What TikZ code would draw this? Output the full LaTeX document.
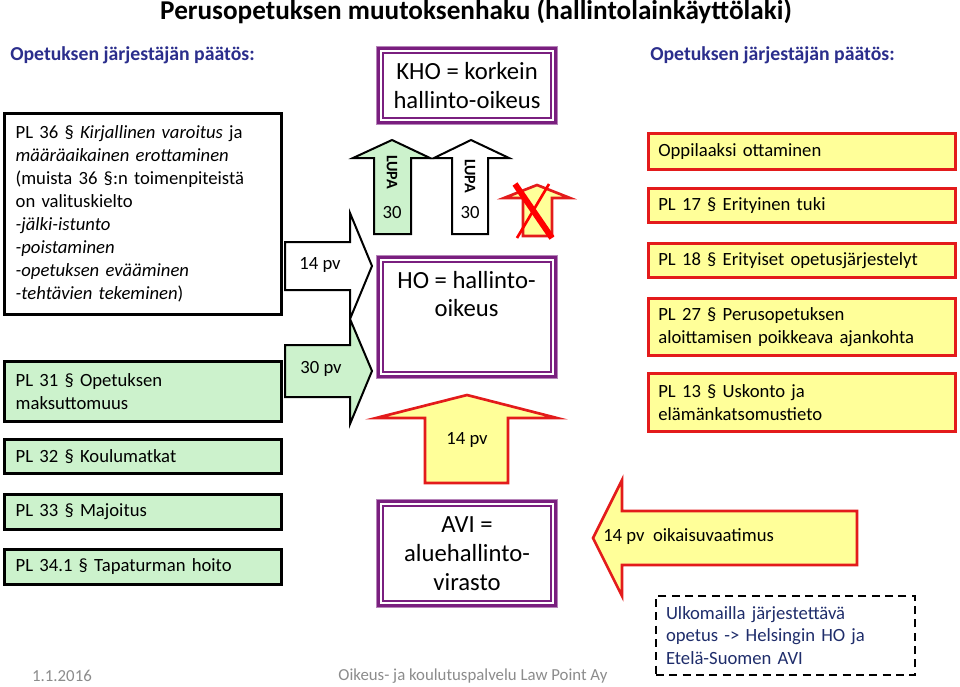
\documentclass[tikz,border=0pt]{standalone}
\usepackage{fontspec}
\setmainfont{Carlito}
\usepackage{xcolor}
\usepackage{tikz}
\usetikzlibrary{positioning}
\definecolor{plgreen}{HTML}{CCF2CC}
\definecolor{plyellow}{HTML}{FFFF99}
\definecolor{plred}{HTML}{E31B1B}
\definecolor{plpurple}{HTML}{7A1F7F}
\definecolor{plblue}{HTML}{2B2E8C}
\definecolor{plnavy}{HTML}{1F2D6B}
\definecolor{plgray}{HTML}{8C8C8C}
\newcommand{\bodyfont}{\fontsize{14}{17.25}\selectfont}
\newcommand{\courtfont}{\fontsize{18.5}{21.5}\selectfont}
\newcommand{\lupafont}{\fontsize{12}{14}\selectfont\bfseries}

\begin{document}
\begin{tikzpicture}[x=0.75pt,y=-0.75pt,
  leftbox/.style={draw=black,line width=2pt,anchor=north west,align=left,font=\bodyfont,inner xsep=8.5pt,text width=190.75pt},
  rightbox/.style={draw=plred,line width=2pt,fill=plyellow,anchor=north west,align=left,font=\bodyfont,inner xsep=7.5pt,text width=215.25pt},
  court/.style={draw=plpurple!55,line width=0.8pt,fill=white,anchor=north west,minimum width=135.75pt,align=center,font=\courtfont},
  blackarrow/.style={draw=black,line width=1.5pt},
  redarrow/.style={draw=plred,line width=2pt,fill=plyellow},
  head/.style={font=\fontsize{14.8}{17}\selectfont\bfseries,text=plblue,anchor=west,inner sep=0pt},
  foot/.style={font=\fontsize{12.6}{14}\selectfont,text=plgray,inner sep=0pt}]
  \fill[white] (0,0) rectangle (960,686);
  \useasboundingbox (0,0) rectangle (960,686);
  \node[font=\fontsize{20.4}{24}\selectfont\bfseries] (title) at (476,12) {Perusopetuksen muutoksenhaku (hallintolainkäyttölaki)};
  \node[head] (headleft) at (10,55) {Opetuksen järjestäjän päätös:};
  \node[head] (headright) at (650,55) {Opetuksen järjestäjän päätös:};
  % decisions, left
  \node[leftbox,fill=white,minimum height=150.75pt] (pl36) at (3,112)
        {PL 36 § \textit{Kirjallinen varoitus} ja\\\textit{määräaikainen erottaminen}\\(muista 36 §:n toimenpiteistä\\on valituskielto\\\textit{-jälki-istunto}\\\textit{-poistaminen}\\\textit{-opetuksen evääminen}\\\textit{-tehtävien tekeminen})};
  \node[leftbox,fill=plgreen,minimum height=45pt] (pl31) at (3,360) {PL 31 § Opetuksen\\maksuttomuus};
  \node[leftbox,fill=plgreen,minimum height=25.5pt] (pl32) at (3,438) {PL 32 § Koulumatkat};
  \node[leftbox,fill=plgreen,minimum height=26.25pt] (pl33) at (3,493) {PL 33 § Majoitus};
  \node[leftbox,fill=plgreen,minimum height=26.25pt] (pl34) at (3,548) {PL 34.1 § Tapaturman hoito};
  % decisions, right
  \node[rightbox,minimum height=27pt] (opp) at (647,132) {Oppilaaksi ottaminen};
  \node[rightbox,minimum height=25.5pt] (pl17) at (647,187) {PL 17 § Erityinen tuki};
  \node[rightbox,minimum height=25.5pt] (pl18) at (647,242) {PL 18 § Erityiset opetusjärjestelyt};
  \node[rightbox,minimum height=42.75pt] (pl27) at (647,297) {PL 27 § Perusopetuksen\\aloittamisen poikkeava ajankohta};
  \node[rightbox,minimum height=43.5pt] (pl13) at (647,372) {PL 13 § Uskonto ja\\elämänkatsomustieto};
  % courts
  \node[court,minimum height=58.5pt] (kho) at (376,46) {KHO = korkein\\hallinto-oikeus};
  \node[court,minimum height=92.25pt] (ho) at (376,255) {};
  \node[court,minimum height=81pt] (avi) at (376,499) {AVI =\\aluehallinto-\\virasto};
  \foreach \c in {kho,ho,avi}{
    \draw[plpurple,line width=2.25pt] ([shift={(2.5,2.5)}]\c.north west) rectangle ([shift={(-2.5,-2.5)}]\c.south east);
    \draw[plpurple,line width=1.1pt] ([shift={(7,7)}]\c.north west) rectangle ([shift={(-7,-7)}]\c.south east);
  }
  \node[font=\courtfont,align=center] (hotext) at (466.5,294) {HO = hallinto-\\oikeus};
  % appeal arrows
  \draw[blackarrow,fill=white] (285,242) -- (350,242) -- (350,213) -- (372,266) -- (350,319) -- (350,290) -- (285,290) -- cycle;
  \node[font=\bodyfont] (pv14) at (320,265) {14 pv};
  \draw[blackarrow,fill=plgreen] (285,345) -- (350,345) -- (350,319) -- (372,371) -- (350,424) -- (350,397) -- (285,397) -- cycle;
  \node[font=\bodyfont] (pv30) at (321,369) {30 pv};
  \draw[blackarrow,fill=plgreen] (374,234) -- (374,158) -- (353,158) -- (392,140) -- (430,158) -- (411,158) -- (411,234) -- cycle;
  \node[font=\lupafont,rotate=-90] (lupaA) at (392,172) {LUPA};
  \node[font=\bodyfont] (daysA) at (392,213) {30};
  \draw[blackarrow,fill=white] (452,234) -- (452,158) -- (434,158) -- (471,140) -- (509,158) -- (488,158) -- (488,234) -- cycle;
  \node[font=\lupafont,rotate=-90] (lupaB) at (470,176) {LUPA};
  \node[font=\bodyfont] (daysB) at (470,213) {30};
  % no appeal from AVI
  \draw[redarrow] (523,236) -- (523,198) -- (504,198) -- (537,185) -- (570,198) -- (552,198) -- (552,236) -- cycle;
  \draw[red,line width=4.5pt] (515,184) -- (552,238);
  \draw[red,line width=2pt] (549,184) -- (517,238);
  \draw[redarrow] (425,483) -- (425,418) -- (376,418) -- (467,395) -- (557,418) -- (508,418) -- (508,483) -- cycle;
  \node[font=\bodyfont] (pvup) at (467,440) {14 pv};
  \draw[redarrow] (857,511) -- (622,511) -- (622,480) -- (593,538) -- (622,596) -- (622,565) -- (857,565) -- cycle;
  \node[font=\bodyfont,anchor=west,inner sep=0pt] (oik) at (603,537) {14 pv\ \ oikaisuvaatimus};
  \node[draw=black,line width=1.5pt,dash pattern=on 6pt off 4pt,anchor=north west,minimum height=59.25pt,
        text width=179.25pt,inner xsep=7.5pt,align=left,text=plnavy,font=\fontsize{14}{17}\selectfont] (abroad) at (655,595)
        {Ulkomailla järjestettävä\\opetus -> Helsingin HO ja\\Etelä-Suomen AVI};
  % footer
  \node[foot] (date) at (62,676) {1.1.2016};
  \node[foot] (firm) at (473,676) {Oikeus- ja koulutuspalvelu Law Point Ay};
\end{tikzpicture}
\end{document}
